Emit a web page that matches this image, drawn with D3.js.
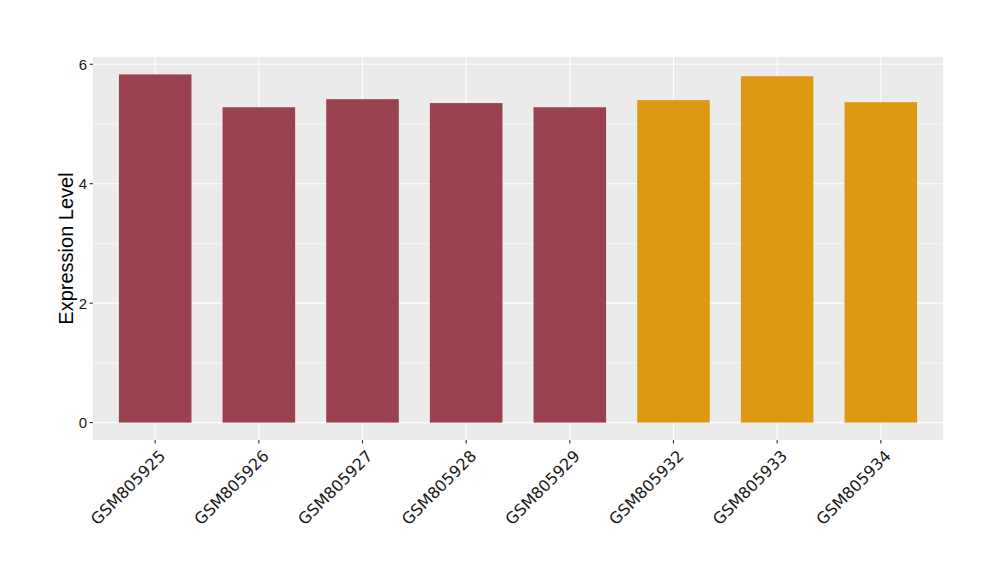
<!DOCTYPE html>
<html><head><meta charset="utf-8">
<script src="https://cdn.jsdelivr.net/npm/d3@7"></script>
<style>body{margin:0;background:#fff;} text{font-family:"Liberation Sans", Arial, sans-serif;} text.xl{font-family:"DejaVu Sans", sans-serif;}</style>
</head><body>
<svg id="c" width="1000" height="580"></svg>
<script>
const categories = ["GSM805925","GSM805926","GSM805927","GSM805928","GSM805929","GSM805932","GSM805933","GSM805934"];
const values = [5.83, 5.28, 5.415, 5.35, 5.28, 5.40, 5.80, 5.365];
const groups = ["a","a","a","a","a","b","b","b"];
const yTicks = [0, 2, 4, 6];
const yMinor = [1, 3, 5];
const colors = {a:"#99414F", b:"#DC9A13"};

const svg = d3.select("#c");
const L = 93, R = 943, T = 57, B = 440;
const n = categories.length;
const x = d3.scaleLinear().domain([0.4, n + 0.6]).range([L, R]);
const maxV = d3.max(values);
const pad = maxV * 0.05;
const y = d3.scaleLinear().domain([-pad, maxV + pad]).range([B, T]);

svg.append("rect").attr("x", L).attr("y", T).attr("width", R - L).attr("height", B - T).attr("fill", "#EBEBEB");
const g = svg.append("g");
yMinor.forEach(v => g.append("line").attr("x1", L).attr("x2", R).attr("y1", y(v)).attr("y2", y(v)).attr("stroke", "#fff").attr("stroke-width", 0.55));
yTicks.forEach(v => g.append("line").attr("x1", L).attr("x2", R).attr("y1", y(v)).attr("y2", y(v)).attr("stroke", "#fff").attr("stroke-width", 1.1));
categories.forEach((c, i) => g.append("line").attr("x1", x(i + 1)).attr("x2", x(i + 1)).attr("y1", T).attr("y2", B).attr("stroke", "#fff").attr("stroke-width", 1.1));

svg.selectAll(".bar").data(values).join("rect")
  .attr("x", (d, i) => x(i + 1 - 0.35))
  .attr("width", (d, i) => x(i + 1.35) - x(i + 0.65))
  .attr("y", d => y(d))
  .attr("height", d => y(0) - y(d))
  .attr("fill", (d, i) => colors[groups[i]]);

// y axis
yTicks.forEach(v => {
  svg.append("line").attr("x1", L - 3.5).attr("x2", L).attr("y1", y(v)).attr("y2", y(v)).attr("stroke", "#333").attr("stroke-width", 1.1);
  svg.append("text").attr("x", L - 6).attr("y", y(v)).attr("dy", "0.36em").attr("text-anchor", "end")
    .attr("font-size", 15).attr("fill", "#1a1a1a").text(v);
});
// x axis
categories.forEach((c, i) => {
  const cx = x(i + 1);
  svg.append("line").attr("x1", cx).attr("x2", cx).attr("y1", B).attr("y2", B + 3.5).attr("stroke", "#333").attr("stroke-width", 1.1);
  svg.append("text").attr("class", "xl").attr("transform", `translate(${cx + 3},${B + 9}) rotate(-45)`)
    .attr("text-anchor", "end").attr("dy", "0.72em").attr("font-size", 16)
    .attr("fill", "#1a1a1a").text(c);
});
svg.append("text").attr("transform", `translate(73,${(T + B) / 2}) rotate(-90)`).attr("text-anchor", "middle")
  .attr("font-size", 20).attr("fill", "#000").text("Expression Level");
</script>
</body></html>
